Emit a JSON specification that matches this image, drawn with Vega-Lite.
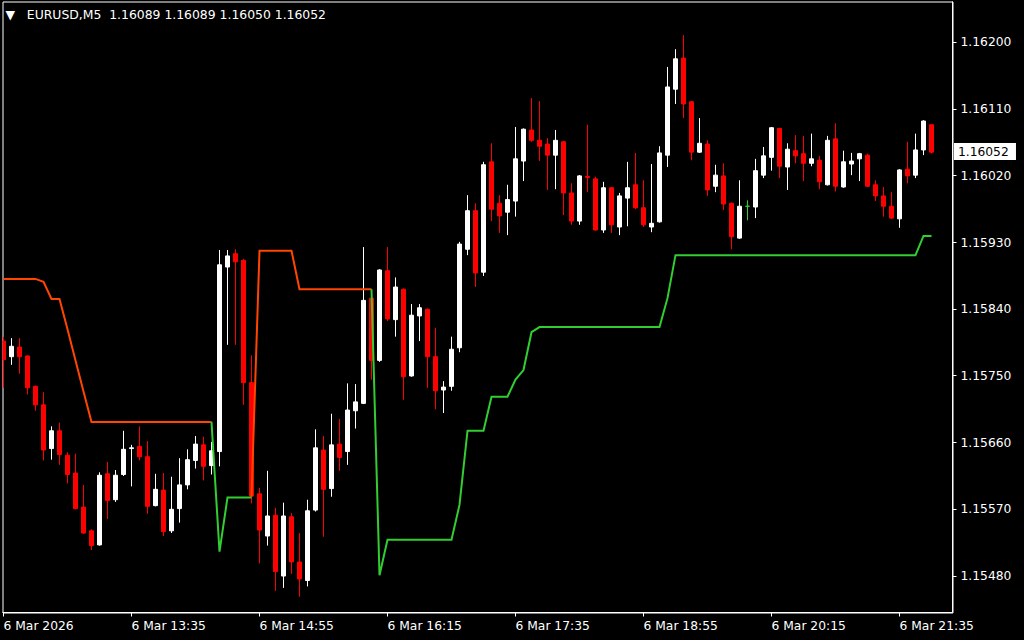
{
"$schema": "https://vega.github.io/schema/vega-lite/v6.json",
"width": 950, "height": 611,
"autosize": {"type": "none"},
"padding": {"left": 2.5, "top": 1.5, "right": 71.5, "bottom": 27.5},
"background": "#000000",
"title": {"text": "▼\u00a0\u00a0\u00a0EURUSD,M5\u00a0\u00a01.16089 1.16089 1.16050 1.16052", "anchor": "start", "frame": "group", "orient": "top", "offset": -29.5, "baseline": "alphabetic", "dx": 3, "color": "#ffffff", "font": "DejaVu Sans", "fontSize": 12.4, "fontWeight": "normal"},
"datasets": {
"bars": [
{"i":0,"o":1.15797,"h":1.15803,"l":1.15734,"c":1.15772},
{"i":1,"o":1.15776,"h":1.15801,"l":1.15765,"c":1.15790},
{"i":2,"o":1.15789,"h":1.15801,"l":1.15753,"c":1.15776},
{"i":3,"o":1.15777,"h":1.15778,"l":1.15725,"c":1.15734},
{"i":4,"o":1.15736,"h":1.15737,"l":1.15703,"c":1.15711},
{"i":5,"o":1.15711,"h":1.15728,"l":1.15636,"c":1.15650},
{"i":6,"o":1.15652,"h":1.15682,"l":1.15637,"c":1.15676},
{"i":7,"o":1.15676,"h":1.15687,"l":1.15630,"c":1.15644},
{"i":8,"o":1.15643,"h":1.15647,"l":1.15605,"c":1.15617},
{"i":9,"o":1.15619,"h":1.15645,"l":1.15570,"c":1.15571},
{"i":10,"o":1.15573,"h":1.15603,"l":1.15537,"c":1.15538},
{"i":11,"o":1.15541,"h":1.15543,"l":1.15515,"c":1.15521},
{"i":12,"o":1.15522,"h":1.15620,"l":1.15521,"c":1.15616},
{"i":13,"o":1.15618,"h":1.15634,"l":1.15557,"c":1.15582},
{"i":14,"o":1.15583,"h":1.15623,"l":1.15580,"c":1.15616},
{"i":15,"o":1.15617,"h":1.15676,"l":1.15615,"c":1.15651},
{"i":16,"o":1.15652,"h":1.15657,"l":1.15601,"c":1.15653},
{"i":17,"o":1.15655,"h":1.15682,"l":1.15636,"c":1.15641},
{"i":18,"o":1.15641,"h":1.15662,"l":1.15564,"c":1.15574},
{"i":19,"o":1.15575,"h":1.15618,"l":1.15574,"c":1.15597},
{"i":20,"o":1.15596,"h":1.15619,"l":1.15534,"c":1.15540},
{"i":21,"o":1.15541,"h":1.15614,"l":1.15538,"c":1.15570},
{"i":22,"o":1.15571,"h":1.15639,"l":1.15552,"c":1.15603},
{"i":23,"o":1.15603,"h":1.15651,"l":1.15597,"c":1.15637},
{"i":24,"o":1.15636,"h":1.15669,"l":1.15625,"c":1.15658},
{"i":25,"o":1.15657,"h":1.15668,"l":1.15609,"c":1.15628},
{"i":26,"o":1.15629,"h":1.15661,"l":1.15617,"c":1.15649},
{"i":27,"o":1.15648,"h":1.15920,"l":1.15628,"c":1.15900},
{"i":28,"o":1.15897,"h":1.15920,"l":1.15792,"c":1.15912},
{"i":29,"o":1.15915,"h":1.15921,"l":1.15792,"c":1.15904},
{"i":30,"o":1.15906,"h":1.15908,"l":1.15711,"c":1.15741},
{"i":31,"o":1.15741,"h":1.15778,"l":1.15578,"c":1.15588},
{"i":32,"o":1.15591,"h":1.15599,"l":1.15497,"c":1.15542},
{"i":33,"o":1.15534,"h":1.15622,"l":1.15521,"c":1.15561},
{"i":34,"o":1.15562,"h":1.15572,"l":1.15460,"c":1.15486},
{"i":35,"o":1.15480,"h":1.15579,"l":1.15464,"c":1.15561},
{"i":36,"o":1.15560,"h":1.15565,"l":1.15483,"c":1.15499},
{"i":37,"o":1.15499,"h":1.15538,"l":1.15452,"c":1.15476},
{"i":38,"o":1.15474,"h":1.15583,"l":1.15466,"c":1.15568},
{"i":39,"o":1.15569,"h":1.15678,"l":1.15567,"c":1.15653},
{"i":40,"o":1.15650,"h":1.15669,"l":1.15533,"c":1.15597},
{"i":41,"o":1.15598,"h":1.15699,"l":1.15587,"c":1.15657},
{"i":42,"o":1.15658,"h":1.15692,"l":1.15622,"c":1.15640},
{"i":43,"o":1.15648,"h":1.15740,"l":1.15630,"c":1.15704},
{"i":44,"o":1.15703,"h":1.15739,"l":1.15679,"c":1.15715},
{"i":45,"o":1.15713,"h":1.15924,"l":1.15712,"c":1.15852},
{"i":46,"o":1.15855,"h":1.15856,"l":1.15745,"c":1.15771},
{"i":47,"o":1.15771,"h":1.15894,"l":1.15769,"c":1.15893},
{"i":48,"o":1.15892,"h":1.15924,"l":1.15824,"c":1.15827},
{"i":49,"o":1.15826,"h":1.15883,"l":1.15803,"c":1.15870},
{"i":50,"o":1.15867,"h":1.15868,"l":1.15718,"c":1.15749},
{"i":51,"o":1.15750,"h":1.15847,"l":1.15749,"c":1.15832},
{"i":52,"o":1.15831,"h":1.15847,"l":1.15797,"c":1.15842},
{"i":53,"o":1.15840,"h":1.15841,"l":1.15734,"c":1.15776},
{"i":54,"o":1.15776,"h":1.15815,"l":1.15705,"c":1.15730},
{"i":55,"o":1.15731,"h":1.15743,"l":1.15700,"c":1.15735},
{"i":56,"o":1.15736,"h":1.15803,"l":1.15730,"c":1.15786},
{"i":57,"o":1.15788,"h":1.15931,"l":1.15782,"c":1.15928},
{"i":58,"o":1.15921,"h":1.15994,"l":1.15913,"c":1.15973},
{"i":59,"o":1.15973,"h":1.15983,"l":1.15870,"c":1.15889},
{"i":60,"o":1.15890,"h":1.16039,"l":1.15885,"c":1.16035},
{"i":61,"o":1.16039,"h":1.16064,"l":1.15959,"c":1.15975},
{"i":62,"o":1.15983,"h":1.15994,"l":1.15943,"c":1.15966},
{"i":63,"o":1.15971,"h":1.16008,"l":1.15940,"c":1.15988},
{"i":64,"o":1.15986,"h":1.16086,"l":1.15965,"c":1.16043},
{"i":65,"o":1.16040,"h":1.16084,"l":1.16013,"c":1.16083},
{"i":66,"o":1.16082,"h":1.16125,"l":1.16066,"c":1.16068},
{"i":67,"o":1.16068,"h":1.16121,"l":1.16040,"c":1.16060},
{"i":68,"o":1.16063,"h":1.16071,"l":1.16001,"c":1.16048},
{"i":69,"o":1.16048,"h":1.16082,"l":1.16002,"c":1.16068},
{"i":70,"o":1.16066,"h":1.16067,"l":1.15967,"c":1.15997},
{"i":71,"o":1.15997,"h":1.16010,"l":1.15954,"c":1.15959},
{"i":72,"o":1.15959,"h":1.16021,"l":1.15954,"c":1.16020},
{"i":73,"o":1.16019,"h":1.16089,"l":1.15998,"c":1.16018},
{"i":74,"o":1.16016,"h":1.16019,"l":1.15946,"c":1.15947},
{"i":75,"o":1.15947,"h":1.16012,"l":1.15943,"c":1.16004},
{"i":76,"o":1.16004,"h":1.16005,"l":1.15943,"c":1.15954},
{"i":77,"o":1.15951,"h":1.15997,"l":1.15940,"c":1.15993},
{"i":78,"o":1.15990,"h":1.16039,"l":1.15952,"c":1.16004},
{"i":79,"o":1.16008,"h":1.16051,"l":1.15975,"c":1.15977},
{"i":80,"o":1.15977,"h":1.16014,"l":1.15951,"c":1.15954},
{"i":81,"o":1.15951,"h":1.16036,"l":1.15944,"c":1.15956},
{"i":82,"o":1.15958,"h":1.16060,"l":1.15957,"c":1.16051},
{"i":83,"o":1.16048,"h":1.16167,"l":1.16032,"c":1.16140},
{"i":84,"o":1.16137,"h":1.16191,"l":1.16117,"c":1.16178},
{"i":85,"o":1.16179,"h":1.16210,"l":1.16098,"c":1.16117},
{"i":86,"o":1.16120,"h":1.16121,"l":1.16041,"c":1.16052},
{"i":87,"o":1.16052,"h":1.16098,"l":1.16051,"c":1.16064},
{"i":88,"o":1.16063,"h":1.16068,"l":1.15993,"c":1.16001},
{"i":89,"o":1.16006,"h":1.16035,"l":1.15998,"c":1.16021},
{"i":90,"o":1.16020,"h":1.16037,"l":1.15974,"c":1.15982},
{"i":91,"o":1.15983,"h":1.15984,"l":1.15921,"c":1.15938},
{"i":92,"o":1.15936,"h":1.16014,"l":1.15935,"c":1.15979},
{"i":93,"o":1.15979,"h":1.15987,"l":1.15960,"c":1.15979},
{"i":94,"o":1.15978,"h":1.16043,"l":1.15963,"c":1.16027},
{"i":95,"o":1.16021,"h":1.16059,"l":1.16017,"c":1.16047},
{"i":96,"o":1.16045,"h":1.16086,"l":1.16027,"c":1.16085},
{"i":97,"o":1.16084,"h":1.16085,"l":1.16017,"c":1.16033},
{"i":98,"o":1.16032,"h":1.16064,"l":1.16001,"c":1.16056},
{"i":99,"o":1.16054,"h":1.16075,"l":1.16037,"c":1.16047},
{"i":100,"o":1.16050,"h":1.16074,"l":1.16013,"c":1.16037},
{"i":101,"o":1.16037,"h":1.16077,"l":1.16033,"c":1.16043},
{"i":102,"o":1.16041,"h":1.16047,"l":1.16002,"c":1.16012},
{"i":103,"o":1.16008,"h":1.16074,"l":1.16007,"c":1.16068},
{"i":104,"o":1.16070,"h":1.16091,"l":1.15999,"c":1.16006},
{"i":105,"o":1.16005,"h":1.16054,"l":1.16004,"c":1.16039},
{"i":106,"o":1.16036,"h":1.16051,"l":1.16021,"c":1.16040},
{"i":107,"o":1.16043,"h":1.16051,"l":1.16013,"c":1.16050},
{"i":108,"o":1.16048,"h":1.16050,"l":1.16005,"c":1.16006},
{"i":109,"o":1.16008,"h":1.16014,"l":1.15986,"c":1.15993},
{"i":110,"o":1.15993,"h":1.16005,"l":1.15965,"c":1.15979},
{"i":111,"o":1.15979,"h":1.15998,"l":1.15962,"c":1.15963},
{"i":112,"o":1.15962,"h":1.16029,"l":1.15950,"c":1.16028},
{"i":113,"o":1.16029,"h":1.16066,"l":1.16010,"c":1.16020},
{"i":114,"o":1.16021,"h":1.16077,"l":1.16017,"c":1.16055},
{"i":115,"o":1.16055,"h":1.16095,"l":1.16048,"c":1.16094},
{"i":116,"o":1.16089,"h":1.16089,"l":1.16050,"c":1.16052}
],
"ind": [
{"i":0,"v":1.15881,"s":"up","g":"u1"},{"i":1,"v":1.15881,"s":"up","g":"u1"},{"i":2,"v":1.15881,"s":"up","g":"u1"},{"i":3,"v":1.15881,"s":"up","g":"u1"},{"i":4,"v":1.15881,"s":"up","g":"u1"},{"i":5,"v":1.15877,"s":"up","g":"u1"},{"i":6,"v":1.15854,"s":"up","g":"u1"},{"i":7,"v":1.15854,"s":"up","g":"u1"},{"i":8,"v":1.15813,"s":"up","g":"u1"},{"i":9,"v":1.15771,"s":"up","g":"u1"},{"i":10,"v":1.15729,"s":"up","g":"u1"},
{"i":11,"v":1.15688,"s":"up","g":"u1"},{"i":12,"v":1.15688,"s":"up","g":"u1"},{"i":13,"v":1.15688,"s":"up","g":"u1"},{"i":14,"v":1.15688,"s":"up","g":"u1"},{"i":15,"v":1.15688,"s":"up","g":"u1"},{"i":16,"v":1.15688,"s":"up","g":"u1"},{"i":17,"v":1.15688,"s":"up","g":"u1"},{"i":18,"v":1.15688,"s":"up","g":"u1"},{"i":19,"v":1.15688,"s":"up","g":"u1"},{"i":20,"v":1.15688,"s":"up","g":"u1"},{"i":21,"v":1.15688,"s":"up","g":"u1"},{"i":22,"v":1.15688,"s":"up","g":"u1"},{"i":23,"v":1.15688,"s":"up","g":"u1"},{"i":24,"v":1.15688,"s":"up","g":"u1"},{"i":25,"v":1.15688,"s":"up","g":"u1"},{"i":26,"v":1.15688,"s":"up","g":"u1"},
{"i":26,"v":1.15688,"s":"dn","g":"d1"},{"i":27,"v":1.15513,"s":"dn","g":"d1"},{"i":28,"v":1.15586,"s":"dn","g":"d1"},{"i":29,"v":1.15586,"s":"dn","g":"d1"},{"i":30,"v":1.15586,"s":"dn","g":"d1"},{"i":31,"v":1.15586,"s":"dn","g":"d1"},
{"i":31,"v":1.15587,"s":"up","g":"u2"},{"i":32,"v":1.15919,"s":"up","g":"u2"},{"i":33,"v":1.15919,"s":"up","g":"u2"},{"i":34,"v":1.15919,"s":"up","g":"u2"},{"i":35,"v":1.15919,"s":"up","g":"u2"},{"i":36,"v":1.15919,"s":"up","g":"u2"},{"i":37,"v":1.15867,"s":"up","g":"u2"},{"i":38,"v":1.15867,"s":"up","g":"u2"},{"i":39,"v":1.15867,"s":"up","g":"u2"},{"i":40,"v":1.15867,"s":"up","g":"u2"},{"i":41,"v":1.15867,"s":"up","g":"u2"},{"i":42,"v":1.15867,"s":"up","g":"u2"},{"i":43,"v":1.15867,"s":"up","g":"u2"},{"i":44,"v":1.15867,"s":"up","g":"u2"},{"i":45,"v":1.15867,"s":"up","g":"u2"},{"i":46,"v":1.15867,"s":"up","g":"u2"},
{"i":46,"v":1.15867,"s":"dn","g":"d2"},{"i":47,"v":1.15481,"s":"dn","g":"d2"},{"i":48,"v":1.15529,"s":"dn","g":"d2"},{"i":49,"v":1.15529,"s":"dn","g":"d2"},{"i":50,"v":1.15529,"s":"dn","g":"d2"},{"i":51,"v":1.15529,"s":"dn","g":"d2"},{"i":52,"v":1.15529,"s":"dn","g":"d2"},{"i":53,"v":1.15529,"s":"dn","g":"d2"},{"i":54,"v":1.15529,"s":"dn","g":"d2"},{"i":55,"v":1.15529,"s":"dn","g":"d2"},{"i":56,"v":1.15529,"s":"dn","g":"d2"},{"i":57,"v":1.15576,"s":"dn","g":"d2"},{"i":58,"v":1.15676,"s":"dn","g":"d2"},{"i":59,"v":1.15676,"s":"dn","g":"d2"},{"i":60,"v":1.15676,"s":"dn","g":"d2"},{"i":61,"v":1.15722,"s":"dn","g":"d2"},{"i":62,"v":1.15722,"s":"dn","g":"d2"},{"i":63,"v":1.15722,"s":"dn","g":"d2"},{"i":64,"v":1.15745,"s":"dn","g":"d2"},{"i":65,"v":1.15758,"s":"dn","g":"d2"},{"i":66,"v":1.15809,"s":"dn","g":"d2"},
{"i":67,"v":1.15816,"s":"dn","g":"d2"},{"i":68,"v":1.15816,"s":"dn","g":"d2"},{"i":69,"v":1.15816,"s":"dn","g":"d2"},{"i":70,"v":1.15816,"s":"dn","g":"d2"},{"i":71,"v":1.15816,"s":"dn","g":"d2"},{"i":72,"v":1.15816,"s":"dn","g":"d2"},{"i":73,"v":1.15816,"s":"dn","g":"d2"},{"i":74,"v":1.15816,"s":"dn","g":"d2"},{"i":75,"v":1.15816,"s":"dn","g":"d2"},{"i":76,"v":1.15816,"s":"dn","g":"d2"},{"i":77,"v":1.15816,"s":"dn","g":"d2"},{"i":78,"v":1.15816,"s":"dn","g":"d2"},{"i":79,"v":1.15816,"s":"dn","g":"d2"},{"i":80,"v":1.15816,"s":"dn","g":"d2"},{"i":81,"v":1.15816,"s":"dn","g":"d2"},{"i":82,"v":1.15816,"s":"dn","g":"d2"},{"i":83,"v":1.15855,"s":"dn","g":"d2"},
{"i":84,"v":1.15913,"s":"dn","g":"d2"},{"i":85,"v":1.15913,"s":"dn","g":"d2"},{"i":86,"v":1.15913,"s":"dn","g":"d2"},{"i":87,"v":1.15913,"s":"dn","g":"d2"},{"i":88,"v":1.15913,"s":"dn","g":"d2"},{"i":89,"v":1.15913,"s":"dn","g":"d2"},{"i":90,"v":1.15913,"s":"dn","g":"d2"},{"i":91,"v":1.15913,"s":"dn","g":"d2"},{"i":92,"v":1.15913,"s":"dn","g":"d2"},{"i":93,"v":1.15913,"s":"dn","g":"d2"},{"i":94,"v":1.15913,"s":"dn","g":"d2"},{"i":95,"v":1.15913,"s":"dn","g":"d2"},{"i":96,"v":1.15913,"s":"dn","g":"d2"},{"i":97,"v":1.15913,"s":"dn","g":"d2"},{"i":98,"v":1.15913,"s":"dn","g":"d2"},{"i":99,"v":1.15913,"s":"dn","g":"d2"},{"i":100,"v":1.15913,"s":"dn","g":"d2"},{"i":101,"v":1.15913,"s":"dn","g":"d2"},{"i":102,"v":1.15913,"s":"dn","g":"d2"},{"i":103,"v":1.15913,"s":"dn","g":"d2"},{"i":104,"v":1.15913,"s":"dn","g":"d2"},{"i":105,"v":1.15913,"s":"dn","g":"d2"},{"i":106,"v":1.15913,"s":"dn","g":"d2"},{"i":107,"v":1.15913,"s":"dn","g":"d2"},{"i":108,"v":1.15913,"s":"dn","g":"d2"},{"i":109,"v":1.15913,"s":"dn","g":"d2"},{"i":110,"v":1.15913,"s":"dn","g":"d2"},{"i":111,"v":1.15913,"s":"dn","g":"d2"},{"i":112,"v":1.15913,"s":"dn","g":"d2"},{"i":113,"v":1.15913,"s":"dn","g":"d2"},{"i":114,"v":1.15913,"s":"dn","g":"d2"},{"i":115,"v":1.15939,"s":"dn","g":"d2"},{"i":116,"v":1.15939,"s":"dn","g":"d2"}
]
},
"layer": [
{
"data": {"name": "bars"},
"mark": {"type": "rule", "strokeWidth": 1},
"encoding": {
"x": {"field": "i", "type": "quantitative", "scale": {"domain": [-0.125, 118.625], "nice": false, "zero": false, "padding": 0},
"axis": {"orient": "bottom", "values": [0,16,32,48,64,80,96,112], "labelExpr": "['6 Mar 2026','6 Mar 13:35','6 Mar 14:55','6 Mar 16:15','6 Mar 17:35','6 Mar 18:55','6 Mar 20:15','6 Mar 21:35'][datum.value/16]", "labelAlign": "left", "labelBaseline": "top", "labelPadding": 3, "tickSize": 4, "labelFlush": false, "labelOverlap": false, "title": null}},
"y": {"field": "l", "type": "quantitative", "scale": {"domain": [1.1543077, 1.1625533], "nice": false, "zero": false, "padding": 0},
"axis": {"orient": "right", "values": [1.1548,1.1557,1.1566,1.1575,1.1584,1.1593,1.1602,1.1611,1.162], "format": ".5f", "labelAlign": "left", "labelBaseline": "middle", "labelPadding": 4, "tickSize": 4, "labelFlush": false, "labelOverlap": false, "title": null}},
"y2": {"field": "h"},
"color": {"condition": [{"test": "datum.c > datum.o", "value": "#ffffff"}, {"test": "datum.c < datum.o", "value": "#ff0000"}], "value": "#32cd32"}
}
},
{
"data": {"name": "bars"},
"mark": {"type": "bar", "size": 4, "strokeWidth": 1, "clip": true},
"encoding": {
"x": {"field": "i", "type": "quantitative", "scale": {"domain": [-0.125, 118.625], "nice": false, "zero": false, "padding": 0}},
"y": {"field": "o", "type": "quantitative", "scale": {"domain": [1.1543077, 1.1625533], "nice": false, "zero": false, "padding": 0}},
"y2": {"field": "c"},
"fill": {"condition": [{"test": "datum.c > datum.o", "value": "#ffffff"}, {"test": "datum.c < datum.o", "value": "#ff0000"}], "value": "#32cd32"},
"stroke": {"condition": [{"test": "datum.c > datum.o", "value": "#ffffff"}, {"test": "datum.c < datum.o", "value": "#ff0000"}], "value": "#32cd32"}
}
},
{
"data": {"name": "ind"},
"mark": {"type": "line", "strokeWidth": 2},
"encoding": {
"x": {"field": "i", "type": "quantitative", "scale": {"domain": [-0.125, 118.625], "nice": false, "zero": false, "padding": 0}},
"y": {"field": "v", "type": "quantitative", "scale": {"domain": [1.1543077, 1.1625533], "nice": false, "zero": false, "padding": 0}},
"detail": {"field": "g"},
"color": {"field": "s", "type": "nominal", "scale": {"domain": ["up", "dn"], "range": ["#ff4500", "#32cd32"]}, "legend": null}
}
},
{
"data": {"values": [{"p": 1.16052}]},
"mark": {"type": "rect", "color": "#ffffff"},
"encoding": {
"x": {"datum": 118.81, "type": "quantitative", "scale": {"domain": [-0.125, 118.625], "nice": false, "zero": false, "padding": 0}},
"x2": {"datum": 126.56},
"y": {"datum": 1.160644, "type": "quantitative", "scale": {"domain": [1.1543077, 1.1625533], "nice": false, "zero": false, "padding": 0}},
"y2": {"datum": 1.160414}
}
},
{
"data": {"values": [{"p": 1.16052}]},
"mark": {"type": "text", "color": "#000000", "align": "left", "baseline": "middle", "font": "DejaVu Sans", "fontSize": 12.3},
"encoding": {
"x": {"datum": 119.3, "type": "quantitative", "scale": {"domain": [-0.125, 118.625], "nice": false, "zero": false, "padding": 0}},
"y": {"field": "p", "type": "quantitative", "scale": {"domain": [1.1543077, 1.1625533], "nice": false, "zero": false, "padding": 0}},
"text": {"field": "p", "type": "quantitative", "format": ".5f"}
}
}
],
"config": {
"view": {"stroke": "#ffffff", "strokeWidth": 1, "fill": "#000000"},
"axis": {"domainColor": "#ffffff", "tickColor": "#ffffff", "labelColor": "#ffffff", "labelFont": "DejaVu Sans", "labelFontSize": 12.3, "grid": false, "domainWidth": 1, "tickWidth": 1, "translate": 0}
}
}
